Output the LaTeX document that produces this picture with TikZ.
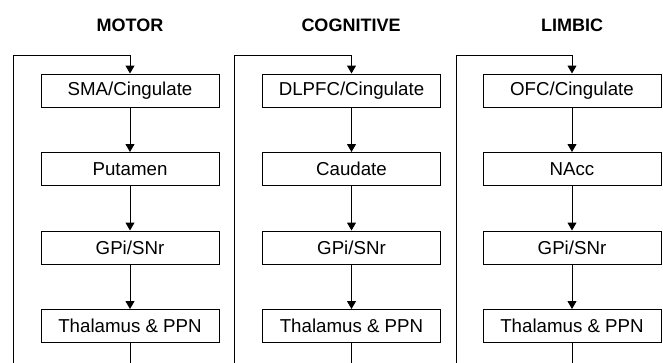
\documentclass[tikz,border=0pt]{standalone}
\usepackage{fontspec}
\setmainfont{Liberation Sans}
\usetikzlibrary{positioning, arrows.meta}

\begin{document}
\begin{tikzpicture}[x=1pt, y=1pt,
  node distance=44.5pt,
  box/.style={draw, rectangle, line width=1pt, minimum width=178pt, minimum height=33pt, inner sep=0pt, font=\fontsize{18.7}{22}\selectfont},
  title/.style={font=\fontsize{18}{22}\selectfont\bfseries},
  link/.style={line width=1pt, -{Triangle[width=9pt,length=8pt]}},
  loop/.style={line width=1pt, -{Triangle[width=9pt,length=8pt]}}
]
\useasboundingbox (0,0) rectangle (663,-362);

% titles
\node[title] (tm) at (130,-25) {MOTOR};
\node[title] (tc) at (351,-25) {COGNITIVE};
\node[title] (tl) at (572,-25) {LIMBIC};

% motor loop
\node[box] (m1) at (130,-90.5) {SMA/Cingulate};
\node[box, below=of m1] (m2) {Putamen};
\node[box, below=of m2] (m3) {GPi/SNr};
\node[box, below=of m3] (m4) {Thalamus \& PPN};

% cognitive loop
\node[box] (c1) at (351.5,-90.5) {DLPFC/Cingulate};
\node[box, below=of c1] (c2) {Caudate};
\node[box, below=of c2] (c3) {GPi/SNr};
\node[box, below=of c3] (c4) {Thalamus \& PPN};

% limbic loop
\node[box] (l1) at (572,-90.5) {OFC/Cingulate};
\node[box, below=of l1] (l2) {NAcc};
\node[box, below=of l2] (l3) {GPi/SNr};
\node[box, below=of l3] (l4) {Thalamus \& PPN};

\foreach \c in {m,c,l}{
  \draw[link] (\c1) -- (\c2);
  \draw[link] (\c2) -- (\c3);
  \draw[link] (\c3) -- (\c4);
}

% feedback lines, cut at the bottom edge
\coordinate (mbot) at (130,-372);  \coordinate (mtop) at (13,-55);
\coordinate (cbot) at (351.5,-372); \coordinate (ctop) at (234,-55);
\coordinate (lbot) at (572,-372);  \coordinate (ltop) at (456,-55);
\draw[loop] (m4) -- (mbot) -| (mtop) -| (m1);
\draw[loop] (c4) -- (cbot) -| (ctop) -| (c1);
\draw[loop] (l4) -- (lbot) -| (ltop) -| (l1);
\end{tikzpicture}
\end{document}
